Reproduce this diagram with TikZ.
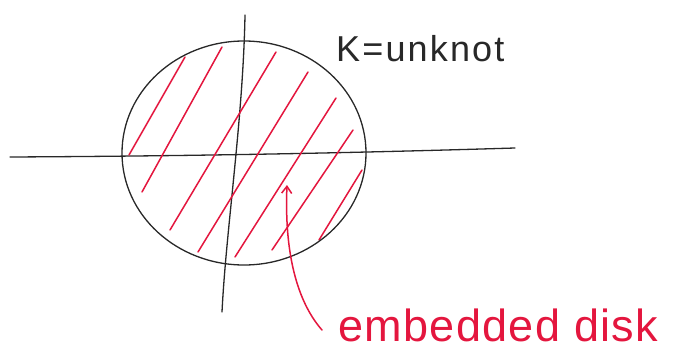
\documentclass[tikz,border=0pt]{standalone}
\usepackage{fontspec}
\setmainfont{Liberation Sans}
\usetikzlibrary{arrows.meta,shapes.geometric}
\definecolor{penred}{RGB}{228,22,62}
\definecolor{penblack}{RGB}{40,40,40}
\begin{document}
\begin{tikzpicture}[x=1pt,y=-1pt,
  ink/.style={draw=penblack,line width=1.3pt,line cap=round},
  hatch/.style={draw=penred,line width=1.5pt,line cap=round},
  lbl/.style={inner sep=0pt,anchor=base west}]
\useasboundingbox[fill=white] (0,0) rectangle (674,350);
% axes
\coordinate (xl) at (10,157);
\coordinate (xr) at (515,148);
\coordinate (yt) at (245,15);
\coordinate (yb) at (222,312);
\draw[ink] (xl) .. controls (200,156) and (350,153) .. (xr);
\draw[ink] (yt) .. controls (243,120) and (226,230) .. (yb);
% hatching
\draw[hatch] (129,155) -- (185,57);
\draw[hatch] (142,192) -- (222,47);
\draw[hatch] (170,230) -- (276,52);
\draw[hatch] (198,252) -- (308,72);
\draw[hatch] (235,257) -- (336,98);
\draw[hatch] (272,250) -- (353,130);
\draw[hatch] (319,240) -- (362,170);
% unknot
\node[ellipse,ink,minimum width=244pt,minimum height=224pt,inner sep=0pt] (knot) at (244,153) {};
% labels
\node[lbl,text=penblack,font=\fontsize{36}{36}\selectfont\addfontfeature{LetterSpace=6}] (k) at (336,62) {K=unknot};
\node[lbl,text=penred,font=\fontsize{45}{45}\selectfont\addfontfeature{LetterSpace=3}] (disk) at (338,341) {embedded disk};
% arrow
\coordinate (tail) at (322,330);
\coordinate (tip) at (287,185);
\draw[draw=penred,line width=1.5pt,line cap=round,-{Straight Barb[length=7pt,width=10pt]}]
  (tail) .. controls (300,305) and (284,260) .. (tip);
\end{tikzpicture}
\end{document}
